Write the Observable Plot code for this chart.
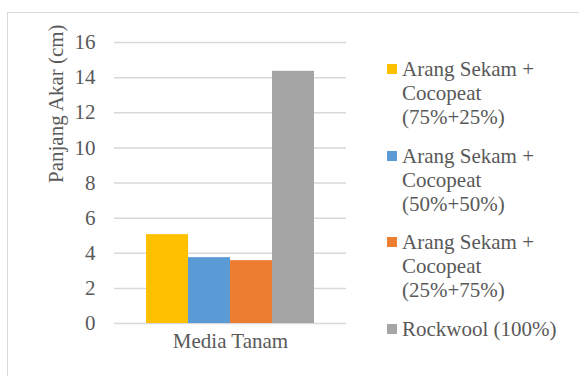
<!DOCTYPE html>
<html>
<head>
<meta charset="utf-8">
<script src="https://cdn.jsdelivr.net/npm/d3@7"></script>
<script src="https://cdn.jsdelivr.net/npm/@observablehq/plot@0.6"></script>
<style>
  html, body { margin: 0; padding: 0; background: #fff; }
  #wrap { position: relative; width: 579px; height: 376px; overflow: hidden; background: #fff;
          font-family: "Liberation Serif", serif !important; color: #595959; }
  #wrap svg text, #wrap svg tspan { font-family: "Liberation Serif", serif !important; font-size: 21px !important; }
  #border { position: absolute; left: 7px; top: 12px; width: 640px; height: 440px;
            border: 1.3px solid #d9d9d9; box-sizing: border-box; }
  #chart { position: absolute; left: 0; top: 0; }
  #legend { position: absolute; left: 387px; top: 57px; width: 172px; font-size: 21px; line-height: 24px;
            font-family: "Liberation Serif", serif !important; }
  .item { display: flex; align-items: flex-start; margin-bottom: 14.5px; }
  .sw { width: 10px; height: 10px; flex: none; margin-top: 7px; margin-right: 5px; }
  .lab { flex: 1; font-family: "Liberation Serif", serif !important; }
</style>
</head>
<body>
<div id="wrap">
  <div id="border"></div>
  <div id="chart"></div>
  <div id="legend"></div>
</div>
<script>
const categories = ["Media Tanam"];
const series = [
  "Arang Sekam + Cocopeat (75%+25%)",
  "Arang Sekam + Cocopeat (50%+50%)",
  "Arang Sekam + Cocopeat (25%+75%)",
  "Rockwool (100%)"
];
const values = [5.06, 3.75, 3.58, 14.36];
const yTicks = [0, 2, 4, 6, 8, 10, 12, 14, 16];
const yLabel = "Panjang Akar (cm)";
const palette = ["#FFC000", "#5B9BD5", "#ED7D31", "#A5A5A5"];

const data = series.map((s, i) => ({category: categories[0], series: s, value: values[i]}));

const chart = Plot.plot({
  width: 360,
  height: 376,
  marginLeft: 114,
  marginRight: 14,
  marginTop: 42,
  marginBottom: 53,
  style: {fontFamily: "'Liberation Serif', serif", fontSize: "21px", color: "#595959", background: "transparent"},
  fx: {domain: categories, padding: 0, label: null, axis: null},
  x: {domain: series, type: "band", paddingInner: 0, paddingOuter: 0.73, axis: null},
  y: {domain: [0, 16], axis: null},
  color: {domain: series, range: palette},
  marks: [
    Plot.ruleY(yTicks, {stroke: "#d9d9d9", strokeWidth: 1.5}),
    Plot.axisY({ticks: yTicks, tickSize: 0, tickPadding: 19, label: null, fill: "#595959", fontSize: 21, fontFamily: "Liberation Serif"}),
    Plot.axisFx({anchor: "bottom", tickSize: 0, tickPadding: 10, label: null, fill: "#595959", fontSize: 21, fontFamily: "Liberation Serif"}),
    Plot.barY(data, {fx: "category", x: "series", y: "value", fill: "series"}),
    Plot.text([yLabel], {frameAnchor: "left", dx: -58, rotate: -90, fill: "#595959", fontSize: 21, fontFamily: "Liberation Serif"})
  ]
});
document.getElementById("chart").appendChild(chart);

const legend = document.getElementById("legend");
series.forEach((s, i) => {
  const item = document.createElement("div");
  item.className = "item";
  const sw = document.createElement("div");
  sw.className = "sw";
  sw.style.background = palette[i];
  const lab = document.createElement("div");
  lab.className = "lab";
  lab.textContent = s;
  item.appendChild(sw);
  item.appendChild(lab);
  legend.appendChild(item);
});
</script>
</body>
</html>
